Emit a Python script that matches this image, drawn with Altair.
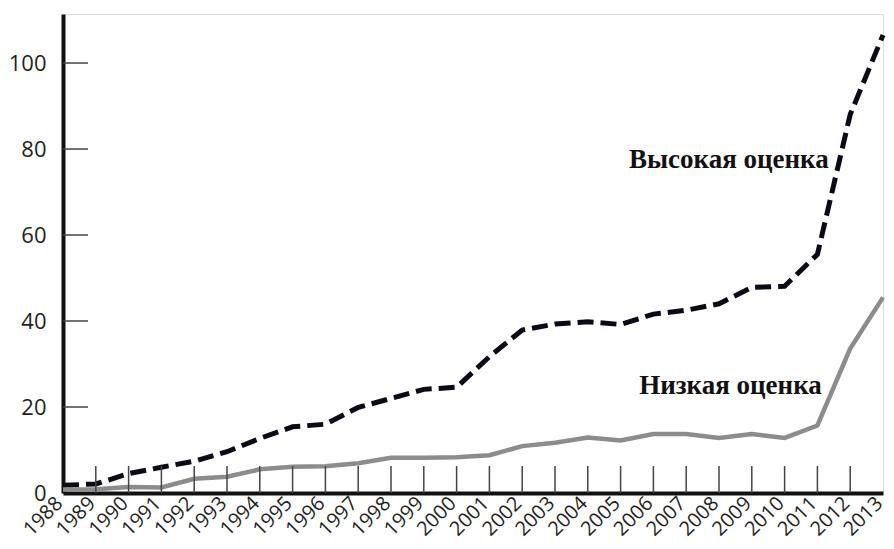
import altair as alt
import pandas as pd

years = list(range(1988, 2014))
high = [1.8, 2.1, 4.5, 6.0, 7.4, 9.6, 12.7, 15.4, 16.0, 19.9, 22.0, 24.1, 24.6,
        31.7, 37.9, 39.3, 39.8, 39.2, 41.6, 42.5, 44.0, 47.8, 48.1, 55.5, 88.0, 106.5]
low = [0.8, 0.9, 1.4, 1.3, 3.3, 3.8, 5.5, 6.1, 6.2, 6.9, 8.2, 8.2, 8.3,
       8.8, 10.9, 11.7, 12.9, 12.2, 13.7, 13.7, 12.8, 13.7, 12.8, 15.7, 33.6, 45.5]
y_ticks = [0, 20, 40, 60, 80, 100]
label_high = "Высокая оценка"
label_low = "Низкая оценка"

Y_MAX = 111.4

df_high = pd.DataFrame({"year": years, "value": high})
df_low = pd.DataFrame({"year": years, "value": low})
df_yt = pd.DataFrame({"value": y_ticks[1:]})
df_xt = pd.DataFrame({"year": years[1:-1]})
df_lab = pd.DataFrame({
    "year": [2008.3, 2008.35],
    "value": [75.5, 23.0],
    "text": [label_high, label_low],
})

xscale = alt.Scale(domain=[1988, 2013], nice=False, zero=False)
yscale = alt.Scale(domain=[0, Y_MAX], nice=False)

xaxis = alt.Axis(values=years, format="d", labelAngle=-45, labelAlign="right",
                 labelBaseline="middle", labelPadding=7, ticks=False, grid=False,
                 title=None, labelFont="Open Sans", labelFontSize=20,
                 labelColor="#231f20", domainColor="#111", domainWidth=4,
                 labelOverlap=False, labelFlush=False, labelOffset=-4)
yaxis = alt.Axis(values=y_ticks, ticks=False, grid=False, title=None,
                 labelFont="Open Sans", labelFontSize=22, labelColor="#231f20",
                 labelPadding=17, domainColor="#111", domainWidth=4,
                 labelOverlap=False)

x_enc = alt.X("year:Q", scale=xscale, axis=xaxis)
y_enc = alt.Y("value:Q", scale=yscale, axis=yaxis)

line_high = alt.Chart(df_high).mark_line(
    color="#0b0b18", strokeWidth=5, strokeDash=[16, 7]
).encode(x=x_enc, y=y_enc)

line_low = alt.Chart(df_low).mark_line(
    color="#8c8c8c", strokeWidth=4.5
).encode(x=x_enc, y=y_enc)

ytick_rules = alt.Chart(df_yt).mark_rule(color="#444", strokeWidth=1.5).encode(
    y=y_enc, x=alt.value(0), x2=alt.value(25)
)
xtick_rules = alt.Chart(df_xt).mark_rule(color="#444", strokeWidth=1.5).encode(
    x=x_enc, y=alt.value(452), y2=alt.value(479)
)

labels = alt.Chart(df_lab).mark_text(
    font="Liberation Serif", fontWeight="bold", fontSize=27, color="#111",
    align="center", baseline="alphabetic"
).encode(x=x_enc, y=y_enc, text="text:N")

chart = alt.layer(line_high, line_low, ytick_rules, xtick_rules, labels).properties(
    width=820, height=479,
    autosize=alt.AutoSizeParams(type="none", contains="content"),
    padding={"left": 55, "top": 6, "right": 3, "bottom": 48},
).configure_view(stroke="#555", strokeWidth=1.8).configure(background="white")

chart.save("out.html", embed_options={"renderer": "svg", "actions": False})
